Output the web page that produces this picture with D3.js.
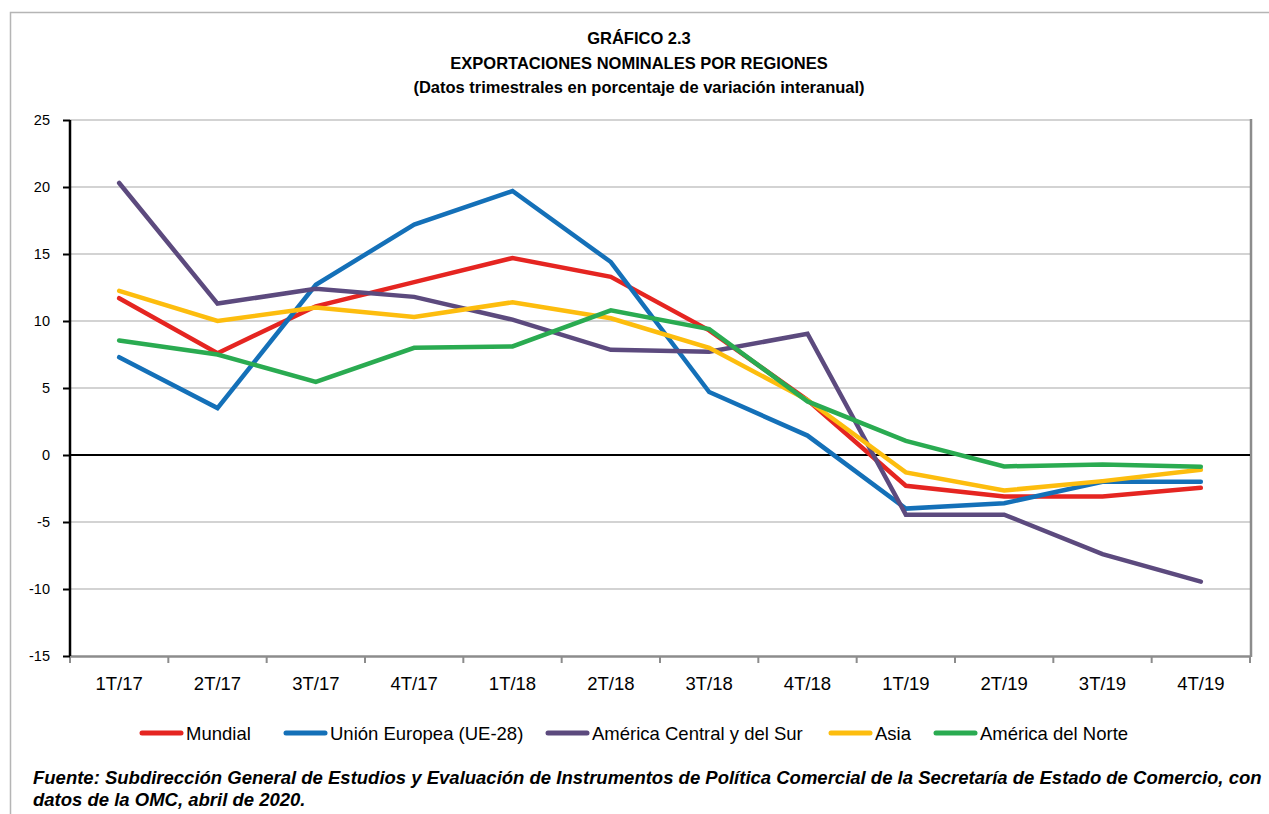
<!DOCTYPE html>
<html>
<head>
<meta charset="utf-8">
<script src="https://cdn.jsdelivr.net/npm/d3@7"></script>
<style>
  body { margin: 0; background: #fff; }
  svg text { font-family: "Liberation Sans", Arial, Helvetica, sans-serif; fill: #000; }
</style>
</head>
<body>
<svg id="chart" width="1269" height="814"></svg>
<script>
const quarters = ["1T/17","2T/17","3T/17","4T/17","1T/18","2T/18","3T/18","4T/18","1T/19","2T/19","3T/19","4T/19"];
const yTicks = [-15, -10, -5, 0, 5, 10, 15, 20, 25];

const mundial   = [11.7, 7.6, 11.1, 12.9, 14.7, 13.3, 9.3, 4.1, -2.3, -3.1, -3.1, -2.45];
const ue28      = [7.3, 3.5, 12.7, 17.2, 19.7, 14.4, 4.7, 1.45, -4.0, -3.6, -2.0, -2.0];
const americaCS = [20.3, 11.3, 12.4, 11.8, 10.1, 7.85, 7.7, 9.05, -4.45, -4.45, -7.4, -9.45];
const asia      = [12.25, 10.0, 11.0, 10.3, 11.4, 10.2, 8.0, 4.1, -1.3, -2.65, -1.95, -1.1];
const americaN  = [8.55, 7.5, 5.45, 8.0, 8.1, 10.8, 9.4, 4.0, 1.05, -0.85, -0.7, -0.88];

const seriesNames = ["Mundial", "Unión Europea (UE-28)", "América Central y del Sur", "Asia", "América del Norte"];
const seriesColors = ["#e52521", "#1470b8", "#5c4a7e", "#fdbd0e", "#2aab51"];
const seriesData = [mundial, ue28, americaCS, asia, americaN];

const svg = d3.select("#chart");

// outer frame
svg.append("path")
  .attr("d", "M10.5,814 V12.5 H1269")
  .attr("fill", "none").attr("stroke", "#b5b5b5").attr("stroke-width", 1.5);

// titles
const titles = ["GRÁFICO 2.3", "EXPORTACIONES NOMINALES POR REGIONES", "(Datos trimestrales en porcentaje de variación interanual)"];
titles.forEach((t, i) => {
  svg.append("text")
    .attr("x", 639).attr("y", 44 + i * 24.5)
    .attr("text-anchor", "middle")
    .attr("font-size", 16.5).attr("font-weight", "bold")
    .text(t);
});

const plotL = 70, plotR = 1250, plotT = 120, plotB = 656;

const x = d3.scaleBand().domain(quarters).range([plotL, plotR]);
const y = d3.scaleLinear().domain([-15, 25]).range([plotB, plotT]);

// gridlines
svg.append("g")
  .selectAll("line")
  .data(yTicks.filter(d => d !== 0 && d !== -15))
  .join("line")
  .attr("x1", plotL).attr("x2", plotR)
  .attr("y1", d => y(d)).attr("y2", d => y(d))
  .attr("stroke", "#c4c4c4").attr("stroke-width", 1.5);

// plot right border
svg.append("line")
  .attr("x1", plotR + 1).attr("x2", plotR + 1)
  .attr("y1", plotT - 1).attr("y2", plotB + 1)
  .attr("stroke", "#8c8c8c").attr("stroke-width", 2.5);

// x axis (bottom)
const xAxis = svg.append("g")
  .attr("transform", `translate(0,${plotB})`)
  .call(d3.axisBottom(x).tickSize(0).tickPadding(21));
xAxis.select(".domain").attr("stroke", "#8c8c8c").attr("stroke-width", 2.5);
xAxis.selectAll("text").attr("font-size", 18.5).attr("font-family", "Liberation Sans, Arial, sans-serif");
// tick marks at band edges
svg.append("g")
  .selectAll("line")
  .data(quarters.map(q => x(q)).concat([plotR]))
  .join("line")
  .attr("x1", d => d).attr("x2", d => d)
  .attr("y1", plotB).attr("y2", plotB + 7)
  .attr("stroke", "#8c8c8c").attr("stroke-width", 2);

// zero line
svg.append("line")
  .attr("x1", plotL).attr("x2", plotR)
  .attr("y1", y(0)).attr("y2", y(0))
  .attr("stroke", "#000").attr("stroke-width", 2);

// y axis
const yAxis = svg.append("g")
  .attr("transform", `translate(${plotL},0)`)
  .call(d3.axisLeft(y).tickValues(yTicks).tickFormat(d => String(d)).tickSize(7).tickPadding(13));
yAxis.select(".domain").attr("stroke", "#000").attr("stroke-width", 2.5)
  .attr("d", `M0,${plotT}V${plotB}`);
yAxis.selectAll(".tick line").attr("stroke", "#000").attr("stroke-width", 2);
yAxis.selectAll("text").attr("font-size", 14.5).attr("font-family", "Liberation Sans, Arial, sans-serif");

// series lines
const line = d3.line()
  .x((d, i) => x(quarters[i]) + x.bandwidth() / 2)
  .y(d => y(d));

seriesData.forEach((vals, k) => {
  svg.append("path")
    .datum(vals)
    .attr("d", line)
    .attr("fill", "none")
    .attr("stroke", seriesColors[k])
    .attr("stroke-width", 4.5)
    .attr("stroke-linejoin", "miter")
    .attr("stroke-linecap", "round");
});

// legend
const legendX = [142, 286, 548, 831, 936];
const legend = svg.append("g");
seriesNames.forEach((name, k) => {
  legend.append("line")
    .attr("x1", legendX[k]).attr("x2", legendX[k] + 39)
    .attr("y1", 733).attr("y2", 733)
    .attr("stroke", seriesColors[k]).attr("stroke-width", 5)
    .attr("stroke-linecap", "round");
  legend.append("text")
    .attr("x", legendX[k] + 44).attr("y", 739.5)
    .attr("font-size", 18.5)
    .text(name);
});

// source note
const notes = [
  "Fuente: Subdirección General de Estudios y Evaluación de Instrumentos de Política Comercial de la Secretaría de Estado de Comercio, con",
  "datos de la OMC, abril de 2020."
];
notes.forEach((t, i) => {
  svg.append("text")
    .attr("x", 33).attr("y", 784 + i * 22)
    .attr("font-size", 18.5).attr("font-weight", "bold").attr("font-style", "italic")
    .text(t);
});
</script>
</body>
</html>
